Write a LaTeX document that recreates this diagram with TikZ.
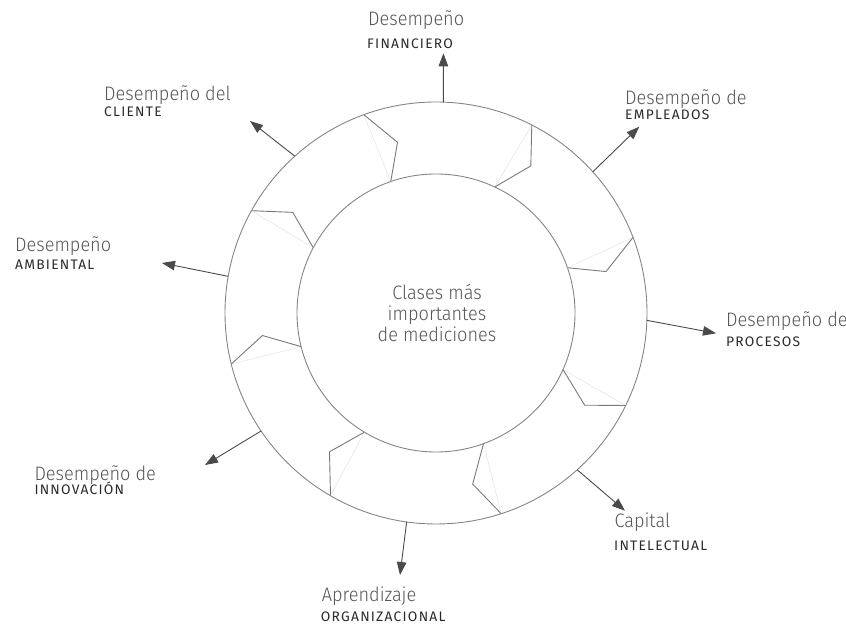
\documentclass[tikz,border=0pt]{standalone}
\usepackage{fontspec}
\usetikzlibrary{arrows.meta,calc}
\newfontfamily\lightfont{Fira Sans Light}[FakeStretch=0.93]
\newfontfamily\capsfont{Fira Sans}[LetterSpace=9]
\definecolor{ringgray}{HTML}{858585}
\definecolor{notchgray}{HTML}{7A7A7A}
\definecolor{ghostgray}{HTML}{E2E2E2}
\definecolor{arrowgray}{HTML}{4A4A4A}
\definecolor{titlegray}{HTML}{555555}
\definecolor{subgray}{HTML}{2A2A2A}
\begin{document}
\begin{tikzpicture}[x=1pt,y=1pt,
  ring/.style={circle, draw=ringgray, line width=0.9pt, inner sep=0pt, outer sep=0pt},
  notch/.style={draw=notchgray, line width=0.9pt, line join=miter},
  ghost/.style={draw=ghostgray, line width=0.5pt},
  outarrow/.style={draw=arrowgray, line width=0.9pt, -{Triangle[length=13pt,width=9.5pt]}},
  title/.style={anchor=base west, inner sep=0pt, text=titlegray, font=\lightfont\fontsize{19.5}{22}\selectfont},
  sub/.style={anchor=base west, inner sep=0pt, text=subgray, font=\capsfont\fontsize{13.8}{15}\selectfont}]
\useasboundingbox (0,0) rectangle (846,626);
\coordinate (c) at (436,313);

% the two rings
\node[ring, minimum size=422pt] (outer) at (c) {};
\node[ring, minimum size=278pt] (inner) at (c) {};

% notched separators between the eight ring segments
\foreach \ao/\ak/\ai in {21.2/13.7/19.4, 63.6/57.2/65, 110.6/102.7/109.3, 151.6/144.9/152.5,
                         194.3/187.4/194.3, 240/232.5/239.5, 288.9/282.1/290, 334.8/328.2/336}{
  \draw[ghost] (outer.\ao) -- (inner.\ai);
  \draw[notch] (outer.\ao) -- ($(c)+(\ak:175)$) -- (inner.\ai);
}

% centre text
\node[align=center, text=titlegray, font=\lightfont\fontsize{19.5}{21}\selectfont] (core) at (437,313)
  {Clases más\\importantes\\de mediciones};

% arrow tips
\coordinate (tipF) at (443.4,572.7);
\coordinate (tipE) at (639.3,499.3);
\coordinate (tipP) at (716,292.7);
\coordinate (tipC) at (625,115.3);
\coordinate (tipA) at (400,51);
\coordinate (tipI) at (205,161);
\coordinate (tipM) at (162,363);
\coordinate (tipL) at (250,505);

\draw[outarrow] (outer.88) -- (tipF);
\draw[outarrow] (outer.42.3) -- (tipE);
\draw[outarrow] (outer.-2.6) -- (tipP);
\draw[outarrow] (outer.-48.3) -- (tipC);
\draw[outarrow] (outer.262.4) -- (tipA);
\draw[outarrow] (outer.214.4) -- (tipI);
\draw[outarrow] (outer.170.5) -- (tipM);
\draw[outarrow] (outer.132.3) -- (tipL);

% labels
\node[title] (finT) at (368,600) {Desempeño};
\node[sub]   (finS) at (367,577.7) {FINANCIERO};
\node[title] (empT) at (625,521) {Desempeño de};
\node[sub]   (empS) at (625,506) {EMPLEADOS};
\node[title] (proT) at (726,299.3) {Desempeño de};
\node[sub]   (proS) at (726,279.3) {PROCESOS};
\node[title] (capT) at (614.3,98.7) {Capital};
\node[sub]   (capS) at (614,75) {INTELECTUAL};
\node[title] (aprT) at (321.7,24.3) {Aprendizaje};
\node[sub]   (aprS) at (320.7,4.3) {ORGANIZACIONAL};
\node[title] (innT) at (34.3,145.3) {Desempeño de};
\node[sub]   (innS) at (34.3,131) {INNOVACIÓN};
\node[title] (ambT) at (15,374) {Desempeño};
\node[sub]   (ambS) at (15,356) {AMBIENTAL};
\node[title] (cliT) at (104,525) {Desempeño del};
\node[sub]   (cliS) at (104,509) {CLIENTE};
\end{tikzpicture}
\end{document}
